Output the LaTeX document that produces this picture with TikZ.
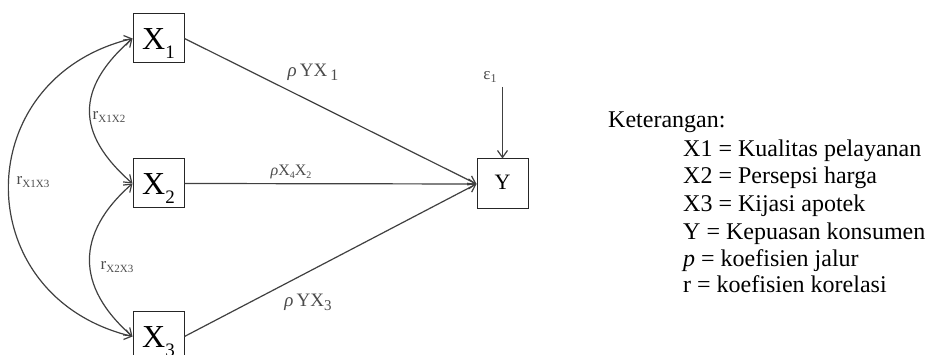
\documentclass[tikz,border=0pt]{standalone}
\usepackage{fontspec}
\setmainfont{Liberation Serif}
\usetikzlibrary{arrows.meta}
\newcommand\fsz[1]{\fontsize{#1}{#1}\selectfont}
\newcommand\xsub[1]{\raisebox{-9pt}{\fsz{19}#1}}
\newcommand\lsub[3]{\raisebox{-#1pt}{\fsz{#2}#3}}
\begin{document}
\begin{tikzpicture}[x=1pt,y=1pt,
  tip/.tip={Straight Barb[length=7pt,width=10pt]},
  varbox/.style={draw=black!85, line width=1pt, minimum width=51pt, minimum height=49pt,
    inner sep=0pt, text height=36pt, text depth=13pt, font=\fsz{32}},
  patharrow/.style={draw=black!75, line width=1.2pt, -tip},
  corr/.style={draw=black!75, line width=1.2pt, tip-tip},
  lbl/.style={text=black!70, inner sep=0pt},
  leg/.style={anchor=base west, inner sep=0pt, font=\fsz{24}}]
\useasboundingbox[fill=white] (0,0) rectangle (927,355);
% variable boxes
\node[varbox] (X1) at (158.5,316.5) {X\xsub{1}};
\node[varbox] (X2) at (158.5,171.5) {X\xsub{2}};
\node[varbox] (X3) at (158.5,18.5) {X\xsub{3}};
\node[varbox, minimum height=50pt, text height=31pt, text depth=19pt, font=\fsz{22}] (Y) at (502.5,171) {Y};
% error term
\node[lbl, font=\fsz{17}] (eps) at (490,278) {ε\lsub{3}{12}{1}};
\coordinate (etop) at (502.5,268);
\draw[patharrow] (etop) -- (Y.north);
% paths
\draw[patharrow] (X1.east) -- (Y.west);
\draw[patharrow] (X2.east) -- (Y.west);
\draw[patharrow] (X3.east) -- (Y.west);
\node[lbl, font=\fsz{19}] (p1) at (313,283) {\textit{ρ}\,YX\,\lsub{4}{16}{1}};
\node[lbl, font=\fsz{16}] (p2) at (291,183) {\textit{ρ}X\lsub{3}{10}{4}X\lsub{3}{10}{2}};
\node[lbl, font=\fsz{19}] (p3) at (308,53) {\textit{ρ}\,YX\lsub{4}{15}{3}};
% correlations
\draw[corr] (X1.west) .. controls +(-165,-40) and +(-165,40) .. (X3.west);
\draw[corr] (X1.west) .. controls +(-57,-50) and +(-57,50) .. (X2.west);
\draw[corr] (X2.west) .. controls +(-57,-50) and +(-57,50) .. (X3.west);
\node[lbl, font=\fsz{17}] (r12) at (109,238) {r\lsub{3}{11}{X1X2}};
\node[lbl, font=\fsz{17}] (r13) at (33,173) {r\lsub{3}{11}{X1X3}};
\node[lbl, font=\fsz{17}] (r23) at (117,88) {r\lsub{3}{11}{X2X3}};
% legend
\node[leg] (k0) at (608,227) {Keterangan:};
\node[leg] (k1) at (683,198) {X1 = Kualitas pelayanan};
\node[leg] (k2) at (683,171) {X2 = Persepsi harga};
\node[leg] (k3) at (683,143) {X3 = Kijasi apotek};
\node[leg] (k4) at (683,115) {Y = Kepuasan konsumen};
\node[leg] (k5) at (683,88) {\textit{p} = koefisien jalur};
\node[leg] (k6) at (683,62) {r = koefisien korelasi};
\end{tikzpicture}
\end{document}
